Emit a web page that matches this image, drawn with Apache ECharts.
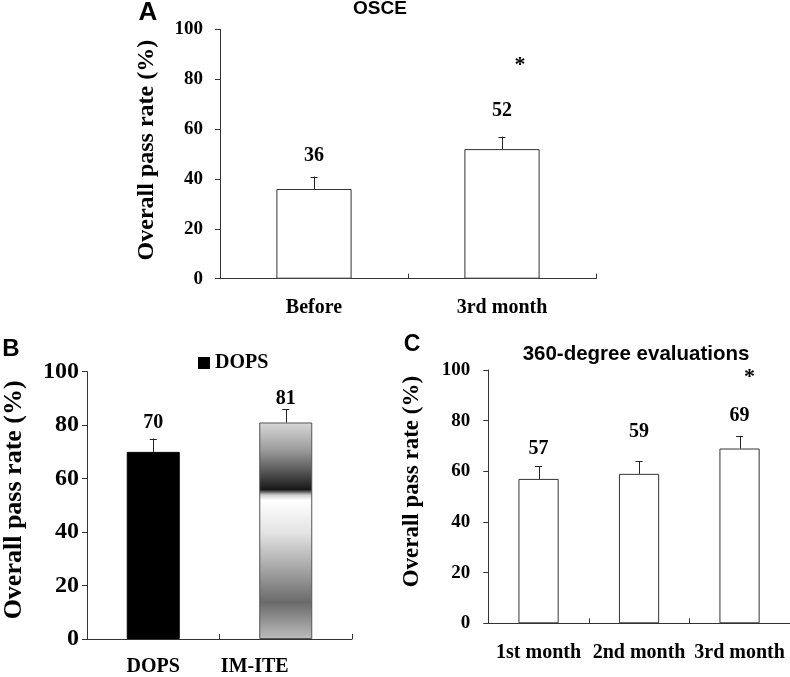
<!DOCTYPE html>
<html><head><meta charset="utf-8">
<script src="https://cdn.jsdelivr.net/npm/echarts@6/dist/echarts.min.js"></script>
<style>html,body{margin:0;padding:0;background:#fff}#c{width:790px;height:677px}</style>
</head><body><div id="c"></div>
<script>
// ---- data ----
const catA = ['Before', '3rd month'];
const valA = [36, 52];
const errA = [5, 5];
const sigA = [false, true];

const catB = ['DOPS', 'IM-ITE'];
const valB = [70, 81];
const errB = [5, 5];

const catC = ['1st month', '2nd month', '3rd month'];
const valC = [57, 59, 69];
const errC = [5, 5, 5];
const sigC = [false, false, true];

const yTicks = [0, 20, 40, 60, 80, 100];
const yTitle = 'Overall pass rate (%)';
const legendB = ['DOPS'];

// ---- styles ----
const SERIF = '"Liberation Serif", "Times New Roman", serif';
const SANS = '"Liberation Sans", Arial, sans-serif';
const AX = '#333';

const chart = echarts.init(document.getElementById('c'), null, {renderer: 'canvas'});

function mkX(gi, cats, fs, margin, rich) {
  return {
    type: 'category', gridIndex: gi, data: cats,
    axisLine: {lineStyle: {color: AX, width: 1}},
    axisTick: {show: true, inside: true, length: 5, alignWithLabel: false, lineStyle: {color: AX}},
    axisLabel: Object.assign({margin: margin, color: '#000', fontFamily: SERIF, fontWeight: 'bold', fontSize: fs, interval: 0}, rich || {}),
    splitLine: {show: false}
  };
}
function mkY(gi, fs, margin, nameFs, nameGap, shiftUp) {
  return {
    type: 'value', gridIndex: gi,
    min: yTicks[0], max: yTicks[yTicks.length - 1], interval: yTicks[1] - yTicks[0],
    axisLine: {show: true, lineStyle: {color: AX, width: 1}},
    axisTick: {show: true, inside: false, length: 5, lineStyle: {color: AX}},
    axisLabel: {margin: margin, color: '#000', fontFamily: SERIF, fontWeight: 'bold', fontSize: fs},
    splitLine: {show: false},
    name: yTitle, nameLocation: 'middle', nameRotate: 90, nameGap: nameGap,
    nameTextStyle: {color: '#000', fontFamily: SERIF, fontWeight: 'bold', fontSize: nameFs, padding: [0, 0, 0, shiftUp * 2]}
  };
}

function valRich(starPad, starLH) {
  return {
    v: {fontFamily: SERIF, fontWeight: 'bold', fontSize: 20, color: '#000', lineHeight: 20},
    s: {fontFamily: SERIF, fontWeight: 'bold', fontSize: 22, color: '#000', lineHeight: starLH, padding: [0, 0, 0, starPad]}
  };
}

function barSeries(name, gi, vals, sig, gaps, baseStyle, itemStyles, rich) {
  return {
    type: 'bar', name: name, xAxisIndex: gi, yAxisIndex: gi, barWidth: '40%', z: 2,
    itemStyle: baseStyle,
    data: vals.map((v, i) => {
      const d = {value: v, label: {distance: gaps[i]}};
      if (itemStyles && itemStyles[i]) d.itemStyle = itemStyles[i];
      return d;
    }),
    label: {
      show: true, position: 'top',
      formatter: (p) => (sig && sig[p.dataIndex]) ? '{s|*}\n{v|' + p.value + '}' : '{v|' + p.value + '}',
      rich: rich
    }
  };
}

function errRender(params, api) {
  const x = api.value(0), v = api.value(1), e = api.value(2);
  const p0 = api.coord([x, v]);
  const p1 = api.coord([x, v + e]);
  const cap = 3.5;
  const st = {stroke: '#222', lineWidth: 1};
  return {type: 'group', children: [
    {type: 'line', shape: {x1: Math.round(p0[0]) + 0.5, y1: p0[1], x2: Math.round(p1[0]) + 0.5, y2: p1[1]}, style: st},
    {type: 'line', shape: {x1: p1[0] - cap, y1: Math.round(p1[1]) + 0.5, x2: p1[0] + cap, y2: Math.round(p1[1]) + 0.5}, style: st}
  ]};
}
function errSeries(gi, vals, errs) {
  return {
    type: 'custom', xAxisIndex: gi, yAxisIndex: gi, z: 3, silent: true,
    renderItem: errRender, encode: {x: 0, y: 1},
    data: vals.map((v, i) => [i, v, errs[i]])
  };
}

const whiteBar = {color: '#fff', borderColor: AX, borderWidth: 1};
const gradIM = new echarts.graphic.LinearGradient(0, 0, 0, 1, [
  {offset: 0.00, color: '#d8d8d8'},
  {offset: 0.13, color: '#9a9a9a'},
  {offset: 0.25, color: '#454545'},
  {offset: 0.31, color: '#181818'},
  {offset: 0.335, color: '#cfcfcf'},
  {offset: 0.36, color: '#ffffff'},
  {offset: 0.51, color: '#e3e3e3'},
  {offset: 0.67, color: '#a8a8a8'},
  {offset: 0.83, color: '#6a6a6a'},
  {offset: 1.00, color: '#bdbdbd'}
]);

const option = {
  animation: false,
  backgroundColor: '#fff',
  grid: [
    {left: 220, top: 29.5, width: 376, height: 249.2},
    {left: 86, top: 371.7, width: 266, height: 267.6},
    {left: 488.3, top: 370, width: 301.5, height: 253.3}
  ],
  xAxis: [
    mkX(0, catA, 20, 19),
    mkX(1, catB, 20, 18, {
      formatter: (v) => v === 'IM-ITE' ? '{sh|' + v + '}' : v,
      rich: {sh: {fontFamily: SERIF, fontWeight: 'bold', fontSize: 20, color: '#000', padding: [0, 62, 0, 0]}}
    }),
    mkX(2, catC, 20, 20)
  ],
  yAxis: [
    mkY(0, 19, 17, 24, 61, 4),
    mkY(1, 24, 8, 26, 60, 5.5),
    mkY(2, 19, 18, 23, 65, 15)
  ],
  legend: {
    data: legendB, left: 198, top: 353, padding: 0, itemGap: 3,
    itemWidth: 12, itemHeight: 12, icon: 'rect', selectedMode: false,
    itemStyle: {borderWidth: 0},
    textStyle: {color: '#000', fontFamily: SERIF, fontWeight: 'bold', fontSize: 20, padding: [0, 0, 0, 0]}
  },
  graphic: [
    {type: 'text', x: 148, y: 13, style: {text: 'A', fontFamily: SANS, fontWeight: 'bold', fontSize: 26, fill: '#000', align: 'center', verticalAlign: 'middle'}},
    {type: 'text', x: 380, y: 9, style: {text: 'OSCE', fontFamily: SANS, fontWeight: 'bold', fontSize: 19, fill: '#000', align: 'center', verticalAlign: 'middle'}},
    {type: 'text', x: 11, y: 349, style: {text: 'B', fontFamily: SANS, fontWeight: 'bold', fontSize: 24, fill: '#000', align: 'center', verticalAlign: 'middle'}},
    {type: 'text', x: 412, y: 345, style: {text: 'C', fontFamily: SANS, fontWeight: 'bold', fontSize: 23, fill: '#000', align: 'center', verticalAlign: 'middle'}},
    {type: 'text', x: 636, y: 354, style: {text: '360-degree evaluations', fontFamily: SANS, fontWeight: 'bold', fontSize: 20.5, fill: '#000', align: 'center', verticalAlign: 'middle'}}
  ],
  series: [
    barSeries('OSCE', 0, valA, sigA, [23, 28], whiteBar, null, valRich(36, 72)),
    errSeries(0, valA, errA),
    barSeries('DOPS', 1, valB, null, [19, 14], {color: '#000', borderColor: '#000', borderWidth: 1},
      [null, {color: gradIM, borderColor: '#555', borderWidth: 1}], valRich(0, 20)),
    errSeries(1, valB, errB),
    barSeries('360', 2, valC, sigC, [20, 32, 23], whiteBar, null, valRich(20, 56)),
    errSeries(2, valC, errC)
  ]
};
chart.setOption(option);
</script>
</body></html>
